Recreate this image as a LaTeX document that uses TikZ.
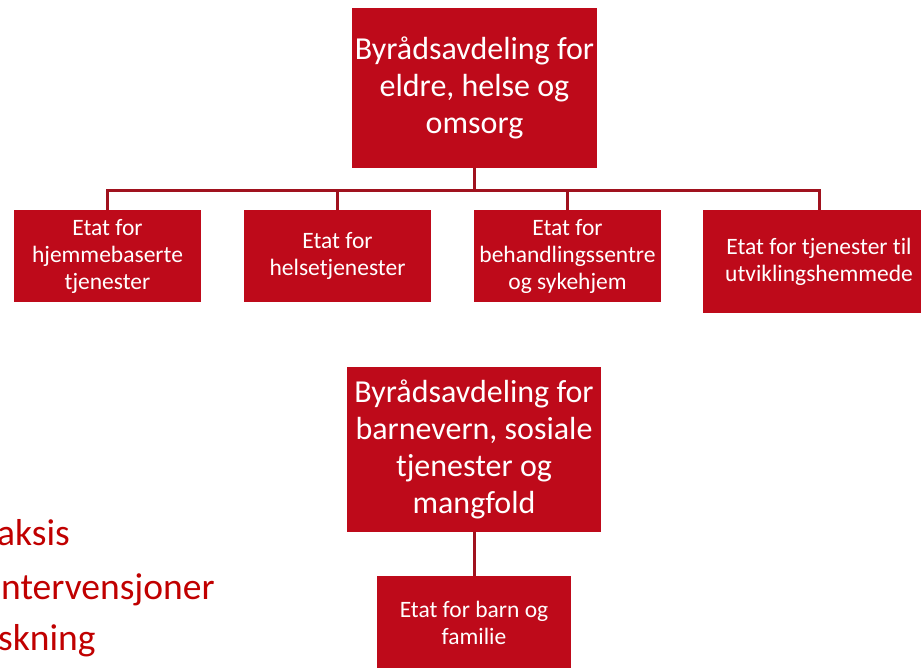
\documentclass[tikz,border=0pt]{standalone}
\usepackage{fontspec}
\setmainfont{Carlito}[Ligatures=NoCommon]
\definecolor{boxred}{RGB}{190,10,26}
\definecolor{linered}{RGB}{160,18,30}
\definecolor{txtred}{RGB}{192,0,0}

\tikzstyle{bS}=[rectangle,fill=boxred,text=white,inner sep=0pt,align=center,font=\fontsize{32}{37}\selectfont]
\tikzstyle{eS}=[rectangle,fill=boxred,text=white,inner sep=0pt,align=center,font=\fontsize{23.5}{27}\selectfont]
\tikzstyle{cS}=[line width=3pt,draw=linered]
\tikzstyle{lS}=[anchor=base west,inner sep=0pt,text=txtred,font=\fontsize{37.5}{42}\selectfont]

\begin{document}
\begin{tikzpicture}[x=1pt,y=-1pt]%[x=1 pt, y=1 pt]
                \clip (0,0) rectangle (921,668);
                \draw (474.5,88) node[bS,minimum width=245pt,minimum height=160pt] (b1) {Byrådsavdeling for\\eldre, helse og\\omsorg};
                \draw (107.5,256) node[eS,minimum width=187pt,minimum height=92pt] (e1) {Etat for\\hjemmebaserte\\tjenester};
                \draw (337.5,256) node[eS,minimum width=187pt,minimum height=92pt] (e2) {Etat for\\helsetjenester};
                \draw (567.5,256) node[eS,minimum width=187pt,minimum height=92pt] (e3) {Etat for\\behandlingssentre\\og sykehjem};
                \draw (819,261.5) node[eS,minimum width=232pt,minimum height=103pt] (e4) {Etat for tjenester til\\utviklingshemmede};
                \draw (474,449.5) node[bS,minimum width=254pt,minimum height=165pt] (b2) {Byrådsavdeling for\\barnevern, sosiale\\tjenester og\\mangfold};
                \draw (474,623) node[eS,minimum width=194pt,minimum height=94pt] (e5) {Etat for barn og\\familie};
                % connectors
                \draw[cS] (b1.south) -- ++(0,22) -| (e1.north);
                \draw[cS] (b1.south) -- ++(0,22) -| (e2.north);
                \draw[cS] (b1.south) -- ++(0,22) -| (e3.north);
                \draw[cS] (b1.south) -- ++(0,22) -| (e4.north);
                \draw[cS] (b2.south) -- (e5.north);
                % cut-off text at the left
                \draw (-3,545) node[lS] (t1) {aksis};
                \draw (1,599) node[lS] (t2) {ntervensjoner};
                \draw (-2,650) node[lS] (t3) {skning};
        \end{tikzpicture}
\end{document}
